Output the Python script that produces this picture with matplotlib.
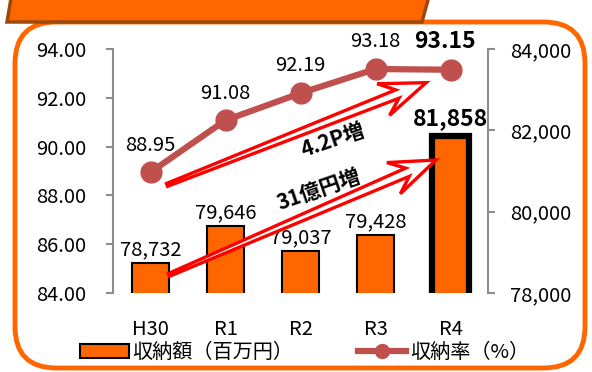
#!/usr/bin/env python3
"""Collection rate (line) and collected amount (bars), H30 to R4."""

import matplotlib
matplotlib.use('Agg')
from matplotlib import pyplot as plt, patches as mpatches, lines as mlines
from matplotlib.ticker import FuncFormatter
import numpy as np

plt.rcParams['font.family'] = ['Noto Sans CJK JP', 'DejaVu Sans']

YEARS = ['H30', 'R1', 'R2', 'R3', 'R4']
RATE = [88.95, 91.08, 92.19, 93.18, 93.15]          # 収納率 (%)
AMOUNT = [78732, 79646, 79037, 79428, 81858]       # 収納額 (百万円)
RATE_TICKS = [84, 86, 88, 90, 92, 94]
AMOUNT_TICKS = [78000, 80000, 82000, 84000]

ORANGE = '#FF6600'
LINE_RED = '#C0504D'
SPINE = '#8C8C8C'
FS = 14.5


def growth_arrow(ax, tail, head, head_len=46, head_half=17, notch=15):
    """Hollow arrow that widens from a thin tail; sizes in pixels."""
    to_px = ax.transAxes
    p0 = np.array(to_px.transform(tail))
    p1 = np.array(to_px.transform(head))
    d = p1 - p0
    length = np.hypot(*d)
    u = d / length
    v = np.array([-u[1], u[0]])
    local = [(0, -1.5), (length - head_len + notch, -4.5),
             (length - head_len, -head_half), (length, 0),
             (length - head_len, head_half),
             (length - head_len + notch, 4.5), (0, 1.5)]
    pts = [p0 + a * u + b * v for a, b in local]
    pts = to_px.inverted().transform(pts)
    ax.add_patch(mpatches.Polygon(pts, closed=True, transform=ax.transAxes,
                                  fc='white', ec='red', lw=2.4,
                                  joinstyle='miter', zorder=5))


def main():
    fig = plt.figure(figsize=(5.92, 3.72), dpi=100)

    # rounded frame and heading banner, kept behind the axes
    frame = mpatches.FancyBboxPatch(
        (15 / 592, 4 / 372), 570 / 592, 346 / 372,
        boxstyle='round,pad=0,rounding_size=0.07',
        transform=fig.transFigure, fc='white', ec=ORANGE, lw=3.5,
        mutation_aspect=592 / 372, zorder=-10)
    fig.add_artist(frame)
    banner = mpatches.Polygon(
        [(7 / 592, 1 - 22 / 372), (422 / 592, 1 - 22 / 372),
         (430 / 592, 1.02), (12 / 592, 1.02)],
        closed=True, transform=fig.transFigure,
        fc=ORANGE, ec='#9C4A0A', lw=2.5, zorder=-5)
    fig.add_artist(banner)

    ax = fig.add_axes([113 / 592, 1 - 293 / 372, 375 / 592, 244 / 372])
    ax2 = ax.twinx()
    x = range(len(YEARS))

    # rate line on the left axis
    ax.plot(x, RATE, color=LINE_RED, lw=4.5, marker='o', ms=15, zorder=3)
    ax.set_ylim(84, 94)
    ax.set_yticks(RATE_TICKS)
    ax.yaxis.set_major_formatter(FuncFormatter(lambda v, p: '%.2f' % v))
    for i, v in enumerate(RATE):
        last = i == len(RATE) - 1
        ax.annotate('%.2f' % v, (i, v), xytext=(-4 if last else 0, 12),
                    textcoords='offset points', ha='center', va='bottom',
                    fontsize=16.5 if last else FS,
                    fontweight='bold' if last else 'normal')

    # amount bars on the right axis
    bars = ax2.bar(x, AMOUNT, width=0.5, color=ORANGE, edgecolor='black',
                   lw=1.5, zorder=2)
    bars[-1].set_linewidth(4.5)
    ax2.set_ylim(78000, 84000)
    ax2.set_yticks(AMOUNT_TICKS)
    ax2.yaxis.set_major_formatter(FuncFormatter(lambda v, p: '{:,.0f}'.format(v)))
    for i, v in enumerate(AMOUNT):
        last = i == len(AMOUNT) - 1
        ax2.annotate('{:,}'.format(v), (i, v), xytext=(0, 4 if last else 2),
                     textcoords='offset points', ha='center', va='bottom',
                     fontsize=16.5 if last else FS,
                     fontweight='bold' if last else 'normal')

    ax.set_xlim(-0.5, len(YEARS) - 0.5)
    ax.set_xticks(list(x))
    ax.set_xticklabels(YEARS)

    for a in (ax, ax2):
        for s in a.spines.values():
            s.set_visible(False)
        a.set_facecolor('none')
    ax.spines['left'].set_visible(True)
    ax.spines['left'].set_color(SPINE)
    ax.spines['left'].set_linewidth(1.5)
    ax2.spines['right'].set_visible(True)
    ax2.spines['right'].set_color(SPINE)
    ax2.spines['right'].set_linewidth(1.5)
    ax.tick_params(axis='y', direction='out', length=5, width=1.5,
                   color=SPINE, labelsize=FS, pad=14)
    ax2.tick_params(axis='y', direction='out', length=5, width=1.5,
                    color=SPINE, labelsize=FS, pad=11)
    ax.tick_params(axis='x', length=0, labelsize=FS, pad=19)

    # growth arrows with captions
    growth_arrow(ax2, (0.144, 0.443), (0.835, 0.862))
    growth_arrow(ax2, (0.149, 0.074), (0.861, 0.545))
    ax2.text(0.588, 0.627, '4.2P増', transform=ax2.transAxes, rotation=19,
             ha='center', va='center', fontsize=15, fontweight='bold', zorder=6)
    ax2.text(0.548, 0.425, '31億円増', transform=ax2.transAxes, rotation=19,
             ha='center', va='center', fontsize=15, fontweight='bold', zorder=6)

    handles = [
        mpatches.Patch(fc=ORANGE, ec='black', lw=1.5, label='収納額（百万円）'),
        mlines.Line2D([], [], color=LINE_RED, lw=4.5, marker='o', ms=10,
                      label='収納率（%）'),
    ]
    fig.legend(handles=handles, loc='center', bbox_to_anchor=(0.515, 0.052),
               ncol=2, frameon=False, fontsize=FS, handlelength=2.4,
               handletextpad=0.2, columnspacing=3.2, borderpad=0)

    fig.savefig('out.png', dpi=100)


if __name__ == '__main__':
    main()
